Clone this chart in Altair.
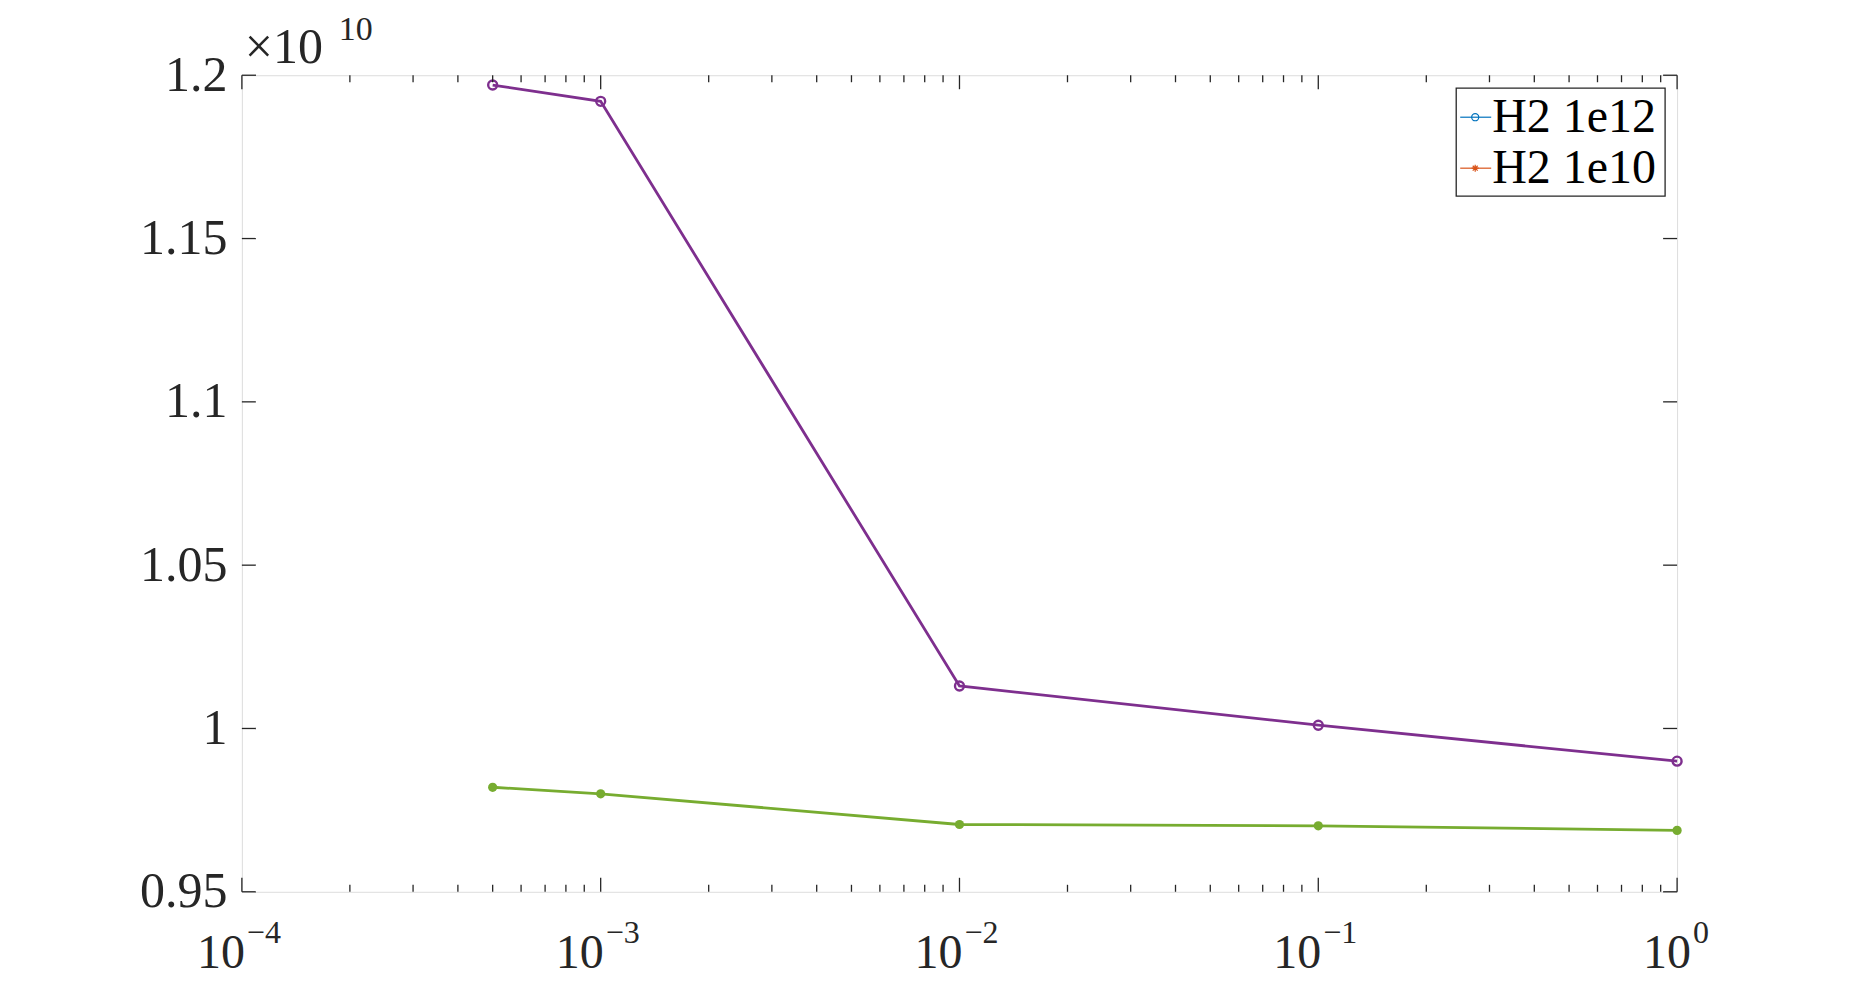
import altair as alt
import pandas as pd

# ---- data ----
x_vals = [5e-4, 1e-3, 1e-2, 1e-1, 1.0]
series_1e12 = [1.197, 1.192, 1.013, 1.001, 0.990]
series_1e10 = [0.982, 0.980, 0.9706, 0.9702, 0.9688]
series_names = ["H2 1e12", "H2 1e10"]
line_colors = ["#7E2F8E", "#77AC30"]
legend_colors = ["#0072BD", "#D95319"]
y_ticks = [0.95, 1.0, 1.05, 1.1, 1.15, 1.2]
x_major = [1e-4, 1e-3, 1e-2, 1e-1, 1.0]
x_exps = ["\u22124", "\u22123", "\u22122", "\u22121", "0"]
x_minor = [m * 10.0 ** k for k in range(-4, 0) for m in range(2, 10)]
scale_base = "\u00d710"
scale_exp = "10"

W, H = 1436, 817
FONT = "Liberation Serif"
INK = "#262626"

df = pd.DataFrame({
    "x": x_vals * 2,
    "y": series_1e12 + series_1e10,
    "series": [series_names[0]] * len(x_vals) + [series_names[1]] * len(x_vals),
})

xs = alt.Scale(type="log", domain=[1e-4, 1.0])
ys = alt.Scale(domain=[0.95, 1.2], nice=False, zero=False)
yaxis = alt.Axis(values=y_ticks, format="~g", ticks=False, domain=False, grid=False,
                 labelPadding=15, labelFontSize=50, labelFont=FONT, labelColor=INK,
                 title=None)

X = lambda f: alt.X(f, scale=xs, axis=None)
Y = lambda f: alt.Y(f, scale=ys, axis=yaxis)

lines = alt.Chart(df).mark_line(strokeWidth=2.8).encode(
    x=X("x:Q"), y=Y("y:Q"),
    color=alt.Color("series:N", scale=alt.Scale(domain=series_names, range=line_colors), legend=None),
)
pts_a = alt.Chart(df).transform_filter(alt.datum.series == series_names[0]).mark_point(
    shape="circle", filled=False, size=80, strokeWidth=2.4, color=line_colors[0], opacity=1
).encode(x=X("x:Q"), y=Y("y:Q"))
pts_b = alt.Chart(df).transform_filter(alt.datum.series == series_names[1]).mark_point(
    shape="circle", filled=True, size=85, color=line_colors[1], opacity=1
).encode(x=X("x:Q"), y=Y("y:Q"))

# ---- ticks (inward, box style) ----
ydf = pd.DataFrame({"v": y_ticks})
xmaj = pd.DataFrame({"v": x_major, "e": x_exps, "b": ["10"] * len(x_major)})
xmin = pd.DataFrame({"v": x_minor})

def rule(data, **enc):
    return alt.Chart(data).mark_rule(color=INK, strokeWidth=1.3).encode(**enc)

ticks = [
    rule(ydf, y=Y("v:Q"), x=alt.value(0), x2=alt.value(14)),
    rule(ydf, y=Y("v:Q"), x=alt.value(W), x2=alt.value(W - 14)),
    rule(xmaj, x=X("v:Q"), y=alt.value(H), y2=alt.value(H - 14)),
    rule(xmaj, x=X("v:Q"), y=alt.value(0), y2=alt.value(14)),
    rule(xmin, x=X("v:Q"), y=alt.value(H), y2=alt.value(H - 7)),
    rule(xmin, x=X("v:Q"), y=alt.value(0), y2=alt.value(7)),
]

# ---- x tick labels: 10^k ----
xlabels = []
for cond, dxb in [("length(datum.e) == 2", 3), ("length(datum.e) == 1", 14)]:
    xlabels.append(alt.Chart(xmaj).transform_filter(cond).mark_text(
        align="right", baseline="alphabetic", dx=dxb, fontSize=48, font=FONT, color=INK
    ).encode(x=X("v:Q"), y=alt.value(893), text="b:N"))
    xlabels.append(alt.Chart(xmaj).transform_filter(cond).mark_text(
        align="left", baseline="alphabetic", dx=dxb + 2, fontSize=32, font=FONT, color=INK
    ).encode(x=X("v:Q"), y=alt.value(868), text="e:N"))

# ---- x10^10 multiplier ----
one = pd.DataFrame({"a": [scale_base], "b": [scale_exp]})
mult = [
    alt.Chart(one).mark_text(align="left", baseline="alphabetic", fontSize=50, font=FONT, color=INK
                             ).encode(x=alt.value(3), y=alt.value(-12), text="a:N"),
    alt.Chart(one).mark_text(align="left", baseline="alphabetic", fontSize=34, font=FONT, color=INK
                             ).encode(x=alt.value(97), y=alt.value(-35), text="b:N"),
]

# ---- legend (drawn manually, colours as in the reference) ----
leg = [alt.Chart(one).mark_rect(fill="white", stroke=INK, strokeWidth=1.3).encode(
    x=alt.value(1215), x2=alt.value(1424), y=alt.value(13), y2=alt.value(121))]
asterisk = "M-1,0L1,0M0,-1L0,1M-0.7,-0.7L0.7,0.7M-0.7,0.7L0.7,-0.7"
shapes = ["circle", asterisk]
leg_df = pd.DataFrame({"label": series_names})
for i, (lab, col, shp) in enumerate(zip(series_names, legend_colors, shapes)):
    yy = 42 + 51 * i
    d = leg_df[leg_df.label == lab]
    leg.append(alt.Chart(d).mark_rule(color=col, strokeWidth=1.2).encode(
        x=alt.value(1219), x2=alt.value(1250), y=alt.value(yy)))
    leg.append(alt.Chart(d).mark_point(shape=shp, filled=False, size=50, strokeWidth=1.2,
                                       color=col, opacity=1).encode(
        x=alt.value(1234), y=alt.value(yy)))
    leg.append(alt.Chart(d).mark_text(align="left", baseline="middle", fontSize=48,
                                      font=FONT, color="#000000").encode(
        x=alt.value(1251), y=alt.value(yy + 1), text="label:N"))

chart = alt.layer(lines, pts_a, pts_b, *ticks, *xlabels, *mult, *leg).properties(
    width=W, height=H,
    autosize=alt.AutoSizeParams(type="none"),
    padding={"left": 234, "top": 67, "right": 170, "bottom": 100},
).configure_view(stroke=INK, strokeWidth=1.6).configure(background="white")

chart.save("out.html", embed_options={"renderer": "svg", "actions": False})
